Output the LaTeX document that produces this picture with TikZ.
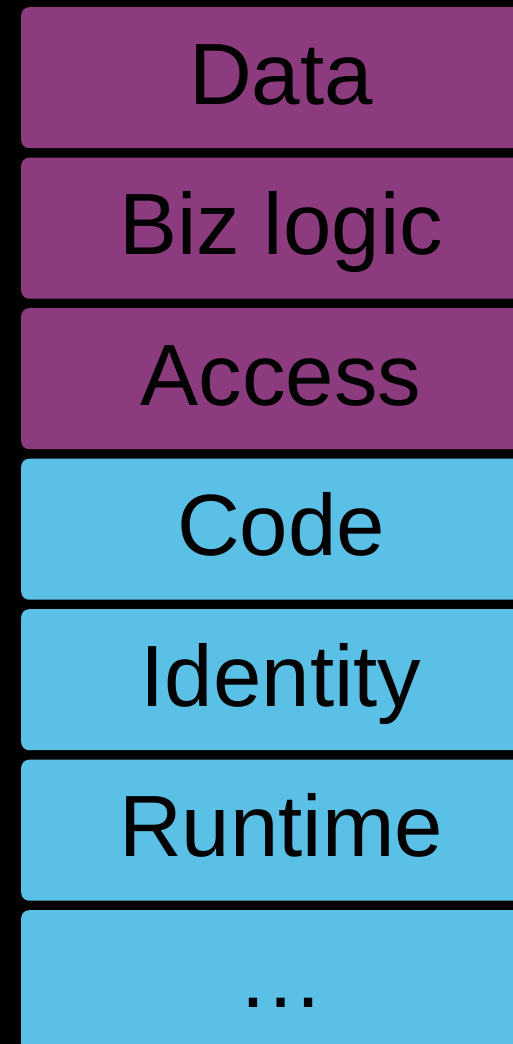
\documentclass[tikz,border=0pt]{standalone}
\usepackage{fontspec}
\setmainfont{Liberation Sans}
\definecolor{bizpurple}{HTML}{8C3B7E}
\definecolor{infrablue}{HTML}{5BC0E6}
\tikzset{
  layerbox/.style={rounded corners=8pt, inner sep=0pt, minimum width=520pt, minimum height=141pt, anchor=north west},
  bizbox/.style={layerbox, fill=bizpurple},
  infrabox/.style={layerbox, fill=infrablue},
  layerlabel/.style={anchor=base, inner sep=0pt, text=black, font=\fontsize{87}{100}\selectfont}
}
\begin{document}
\begin{tikzpicture}[x=1pt,y=-1pt]
\useasboundingbox (0,0) rectangle (513,1044);
\clip (0,0) rectangle (513,1044);
\fill[black] (0,0) rectangle (513,1044);
\node[bizbox] (data) at (21,7) {};
\node[bizbox] (biz) at (21,157.5) {};
\node[bizbox] (access) at (21,308) {};
\node[infrabox] (code) at (21,458.5) {};
\node[infrabox] (identity) at (21,609) {};
\node[infrabox] (runtime) at (21,759.5) {};
\node[infrabox] (more) at (21,910) {};
\node[layerlabel] (tdata) at (281,104) {Data};
\node[layerlabel] (tbiz) at (281,254.5) {Biz logic};
\node[layerlabel] (taccess) at (281,405) {Access};
\node[layerlabel] (tcode) at (281,555.5) {Code};
\node[layerlabel] (tidentity) at (281,706) {Identity};
\node[layerlabel] (truntime) at (281,856.5) {Runtime};
\node[layerlabel] (tmore) at (281,1007.5) {…};
\end{tikzpicture}
\end{document}
